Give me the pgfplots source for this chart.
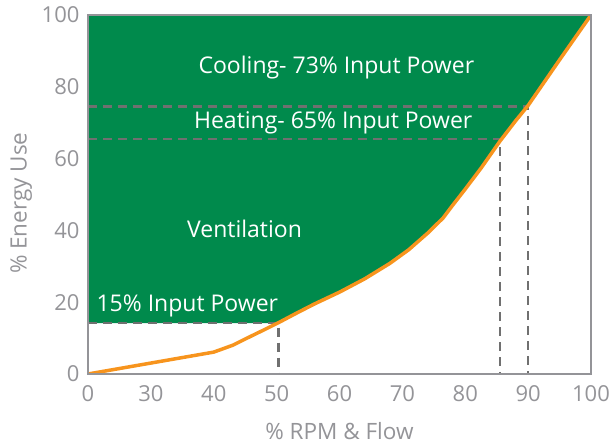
\documentclass[border=0pt]{standalone}
\usepackage{fontspec}
\setmainfont{Open Sans}
\usepackage{pgfplots}
\pgfplotsset{compat=1.18}
\definecolor{fgreen}{RGB}{0,138,76}
\definecolor{forange}{RGB}{247,148,29}
\definecolor{agray}{RGB}{148,148,152}
\definecolor{dgray}{RGB}{112,112,112}
\begin{document}
\begin{tikzpicture}[x=1pt,y=1pt]
\begin{axis}[
  at={(0,0)}, anchor=south west,
  scale only axis, width=503pt, height=359pt,
  xmin=20, xmax=100, ymin=0, ymax=100,
  axis on top,
  axis line style={agray, line width=1.6pt},
  xtick={20,30,40,50,60,70,80,90,100},
  xticklabels={0,30,40,50,60,70,80,90,100},
  ytick={0,20,40,60,80,100},
  major tick length=0pt,
  /pgf/number format/assume math mode=true,
  tick label style={font=\fontsize{22}{24}\selectfont, text=agray},
  xticklabel style={yshift=-8pt},
  yticklabel style={xshift=-5pt},
  xlabel={\% RPM \& Flow}, ylabel={\% Energy Use},
  label style={font=\fontsize{22.5}{24}\selectfont, text=agray},
  xlabel style={at={(axis description cs:0.5,-0.158)}, anchor=center},
  ylabel style={at={(axis description cs:-0.133,0.476)}, anchor=center},
]
% green region above the curve
\addplot[fill=fgreen, draw=none] coordinates {
  (20,100) (20,14.2) (50.3,14.2) (53,16.8) (56,19.5) (60,22.8) (64,26.5)
  (68,30.8) (71,34.6) (74,39.2) (76.5,43.5) (78,47) (80,51.5) (82.5,57.3)
  (85.5,64.8) (88,70.5) (90,74.8) (95,87.5) (100,100)
};
% dashed guides
\addplot[dgray, line width=2.4pt, dash pattern=on 9pt off 6pt] coordinates {(20,14.2) (50.3,14.2) (50.3,0)};
\addplot[dgray, line width=2.4pt, dash pattern=on 9pt off 6pt] coordinates {(20,65.5) (85.5,65.5) (85.5,0)};
\addplot[dgray, line width=2.4pt, dash pattern=on 9pt off 6pt] coordinates {(20,74.5) (90,74.5) (90,0)};
% energy curve
\addplot[forange, line width=3.5pt, line join=round] coordinates {
  (20,0) (40,6.1) (43,8.0) (46,10.6) (48,12.3) (50.3,14.3) (53,16.8) (56,19.5)
  (60,22.8) (64,26.5) (68,30.8) (71,34.6) (74,39.2) (76.5,43.5) (78,47)
  (80,51.5) (82.5,57.3) (85.5,64.8) (88,70.5) (90,74.8) (95,87.5) (100,100)
};
\node[white, font=\fontsize{23}{26}\selectfont, anchor=base] at (axis cs:59.5,83.6) {Cooling- 73\% Input Power};
\node[white, font=\fontsize{23}{26}\selectfont, anchor=base] at (axis cs:59.0,68.5) {Heating- 65\% Input Power};
\node[white, font=\fontsize{23}{26}\selectfont, anchor=base] at (axis cs:44.9,37.9) {Ventilation};
\node[white, font=\fontsize{23}{26}\selectfont, anchor=base] at (axis cs:35.8,17.3) {15\% Input Power};
\end{axis}
\pgfresetboundingbox
\useasboundingbox (-88,-71) rectangle (528,374);
\end{tikzpicture}
\end{document}
